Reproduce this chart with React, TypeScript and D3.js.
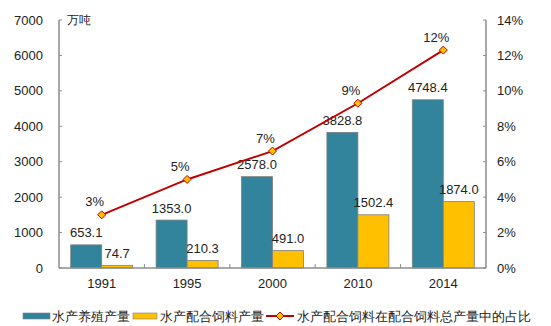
import React from "react";
import * as d3 from "d3";

const categories = ["1991", "1995", "2000", "2010", "2014"];
const aquaculture = [653.1, 1353.0, 2578.0, 3828.8, 4748.4];
const feed = [74.7, 210.3, 491.0, 1502.4, 1874.0];
const share = [3.0, 5.0, 6.6, 9.3, 12.3];
const shareLabels = ["3%", "5%", "7%", "9%", "12%"];
const leftTicks = [0, 1000, 2000, 3000, 4000, 5000, 6000, 7000];
const rightTicks = [0, 2, 4, 6, 8, 10, 12, 14];
const legendLabels = ["水产养殖产量", "水产配合饲料产量", "水产配合饲料在配合饲料总产量中的占比"];

const TEAL = "#31849B";
const YELLOW = "#FFC000";
const RED = "#C00000";
const AXIS = "#8c8c8c";
const TEXT = "#222";
const FONT = "Liberation Sans, Arial, sans-serif";

export default function App() {
  const W = 551, H = 326;
  const left = 59, right = 486, top = 20, bottom = 268;
  const x = d3.scaleBand().domain(categories).range([left, right]).paddingInner(0).paddingOuter(0);
  const yL = d3.scaleLinear().domain([0, 7000]).range([bottom, top]);
  const yR = d3.scaleLinear().domain([0, 14]).range([bottom, top]);
  const bw = 31;
  const line = d3.line<number>().x((_, i) => x(categories[i])! + x.bandwidth() / 2).y((d) => yR(d));
  const diamond = (cx: number, cy: number, r: number) => `M${cx},${cy - r}L${cx + r},${cy}L${cx},${cy + r}L${cx - r},${cy}Z`;

  return (
    <svg width={W} height={H} style={{ position: "absolute", left: 0, top: 0, fontFamily: FONT }}>
      <rect width={W} height={H} fill="#fff" />
      {/* bars */}
      {categories.map((c, i) => {
        const cx = x(c)! + x.bandwidth() / 2;
        return (
          <g key={c}>
            <rect x={cx - bw} y={yL(aquaculture[i])} width={bw} height={bottom - yL(aquaculture[i])} fill={TEAL} stroke="#7f7f7f" strokeWidth={0.8} />
            <rect x={cx} y={yL(feed[i])} width={bw} height={bottom - yL(feed[i])} fill={YELLOW} stroke="#7f7f7f" strokeWidth={0.8} />
            <text x={cx - bw / 2} y={yL(aquaculture[i]) - 7.5} textAnchor="middle" fontSize={13} fill={TEXT}>{aquaculture[i].toFixed(1)}</text>
            <text x={cx + bw / 2} y={yL(feed[i]) - 7.5} textAnchor="middle" fontSize={13} fill={TEXT}>{feed[i].toFixed(1)}</text>
            <text x={cx} y={bottom + 20} textAnchor="middle" fontSize={13} fill={TEXT}>{c}</text>
          </g>
        );
      })}
      {/* axes */}
      <line x1={left} x2={right} y1={bottom} y2={bottom} stroke={AXIS} strokeWidth={1.5} />
      <line x1={left} x2={left} y1={top} y2={bottom} stroke={AXIS} strokeWidth={1.5} />
      <line x1={right} x2={right} y1={top} y2={bottom} stroke={AXIS} strokeWidth={1.5} />
      {categories.slice(1).map((c) => (
        <line key={c} x1={x(c)!} x2={x(c)!} y1={bottom} y2={bottom - 4} stroke={AXIS} />
      ))}
      {leftTicks.map((t) => (
        <g key={t}>
          <line x1={left} x2={left + 3} y1={yL(t)} y2={yL(t)} stroke={AXIS} />
          <text x={43} y={yL(t) + 4.5} textAnchor="end" fontSize={13} fill={TEXT}>{t}</text>
        </g>
      ))}
      {rightTicks.map((t) => (
        <g key={t}>
          <line x1={right - 3} x2={right} y1={yR(t)} y2={yR(t)} stroke={AXIS} />
          <text x={497} y={yR(t) + 4.5} textAnchor="start" fontSize={13} fill={TEXT}>{t}%</text>
        </g>
      ))}
      <text x={67} y={24} fontSize={12} fill={TEXT}>万吨</text>
      {/* line */}
      <path d={line(share)!} fill="none" stroke={RED} strokeWidth={2} />
      {share.map((s, i) => {
        const cx = x(categories[i])! + x.bandwidth() / 2;
        return (
          <g key={i}>
            <path d={diamond(cx, yR(s), 4)} fill={YELLOW} stroke={RED} strokeWidth={1} />
            <text x={cx - 7} y={yR(s) - 8.5} textAnchor="middle" fontSize={13} fill={TEXT}>{shareLabels[i]}</text>
          </g>
        );
      })}
      {/* legend */}
      <rect x={23} y={313} width={27} height={6} fill={TEAL} stroke="#7f7f7f" strokeWidth={0.6} />
      <text x={52} y={321} fontSize={12.8} fill={TEXT}>{legendLabels[0]}</text>
      <rect x={133} y={313} width={24} height={6} fill={YELLOW} stroke="#7f7f7f" strokeWidth={0.6} />
      <text x={160} y={321} fontSize={12.8} fill={TEXT}>{legendLabels[1]}</text>
      <line x1={266} x2={294} y1={316} y2={316} stroke={RED} strokeWidth={2} />
      <path d={diamond(280, 316, 4)} fill={YELLOW} stroke={RED} strokeWidth={1} />
      <text x={297} y={321} fontSize={12.8} fill={TEXT}>{legendLabels[2]}</text>
    </svg>
  );
}
